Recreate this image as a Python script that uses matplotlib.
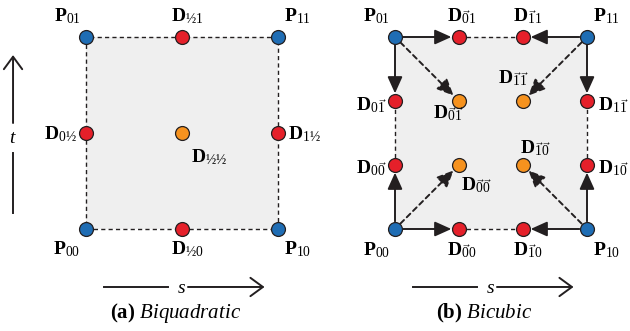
import matplotlib
matplotlib.use('Agg')
import matplotlib.pyplot as plt
from matplotlib.patches import FancyArrowPatch, Rectangle

plt.rcParams['font.family'] = ['Liberation Serif', 'DejaVu Serif']
plt.rcParams['mathtext.fontset'] = 'custom'
plt.rcParams['mathtext.rm'] = 'Liberation Serif'
plt.rcParams['mathtext.it'] = 'Liberation Serif:italic'
plt.rcParams['mathtext.bf'] = 'Liberation Serif:bold'

H = '\u00bd'

# (a) biquadratic patch: control points in (s, t)
quad_s = [0, 1, 0, 1, 0.5, 0.5, 0, 1, 0.5]
quad_t = [0, 0, 1, 1, 0, 1, 0.5, 0.5, 0.5]
quad_kind = ['corner'] * 4 + ['edge'] * 4 + ['face']
quad_names = [r'\mathbf{P}_{00}', r'\mathbf{P}_{10}', r'\mathbf{P}_{01}', r'\mathbf{P}_{11}',
              r'\mathbf{D}_{\mathrm{' + H + '0}}', r'\mathbf{D}_{\mathrm{' + H + '1}}',
              r'\mathbf{D}_{\mathrm{0' + H + '}}', r'\mathbf{D}_{\mathrm{1' + H + '}}',
              r'\mathbf{D}_{\mathrm{' + H + H + '}}']
quad_dashed = [(0, 1), (1, 3), (3, 2), (2, 0)]

# (b) bicubic patch
third = 1 / 3
cub_s = [0, 1, 0, 1, third, 2 * third, third, 2 * third, 0, 0, 1, 1,
         third, 2 * third, third, 2 * third]
cub_t = [0, 0, 1, 1, 0, 0, 1, 1, third, 2 * third, third, 2 * third,
         third, third, 2 * third, 2 * third]
cub_kind = ['corner'] * 4 + ['edge'] * 8 + ['face'] * 4
cub_names = [r'\mathbf{P}_{00}', r'\mathbf{P}_{10}', r'\mathbf{P}_{01}', r'\mathbf{P}_{11}',
             r'\mathbf{D}_{\vec{0}0}', r'\mathbf{D}_{\vec{1}0}',
             r'\mathbf{D}_{\vec{0}1}', r'\mathbf{D}_{\vec{1}1}',
             r'\mathbf{D}_{0\vec{0}}', r'\mathbf{D}_{0\vec{1}}',
             r'\mathbf{D}_{1\vec{0}}', r'\mathbf{D}_{1\vec{1}}',
             r'\mathbf{D}_{\vec{0}\vec{0}}', r'\mathbf{D}_{\vec{1}\vec{0}}',
             r'\mathbf{D}_{\vec{0}\vec{1}}', r'\mathbf{D}_{\vec{1}\vec{1}}']
cub_dashed = [(4, 5), (6, 7), (8, 9), (10, 11)]
cub_solid_arrows = [(0, 4), (0, 8), (1, 5), (1, 10), (2, 6), (2, 9), (3, 7), (3, 11)]
cub_dash_arrows = [(0, 12), (1, 13), (2, 14), (3, 15)]

colors = {'corner': '#1f6db4', 'edge': '#e5202a', 'face': '#f6921e'}

# label offsets in pixels (dx, dy) and alignment
quad_offsets = [(-19, -25, 'center'), (19.5, -25, 'center'), (-19, 16, 'center'), (19.5, 16, 'center'),
                (5, -25, 'center'), (5, 16, 'center'), (-9, -6, 'right'), (10, -6, 'left'),
                (9, -29, 'left')]
cub_offsets = [(-18, -26, 'center'), (20, -26, 'center'), (-18.5, 16, 'center'), (19, 16, 'center'),
               (3, -26, 'center'), (5, -26, 'center'), (3, 16, 'center'), (5, 16, 'center'),
               (-8, -8, 'right'), (-8, -9, 'right'), (11, -8, 'left'), (11, -9, 'left'),
               (17, -25, 'center'), (12, 12, 'center'), (-10.5, -17, 'center'), (-10, 18, 'center')]


def draw_panel(ax, s, t, kind, names, offsets, dashed, caption):
    ax.set_xlim(0, 1)
    ax.set_ylim(0, 1)
    ax.axis('off')
    ax.add_patch(Rectangle((0, 0), 1, 1, facecolor='#efefef', edgecolor='none', zorder=0))
    for i, j in dashed:
        ax.plot([s[i], s[j]], [t[i], t[j]], color='#231f20', lw=1.0,
                linestyle=(0, (3, 2.3)), zorder=1, clip_on=False)
    for k in range(len(s)):
        ax.plot(s[k], t[k], 'o', ms=10, mfc=colors[kind[k]], mec='#231f20', mew=0.9,
                zorder=5, clip_on=False)
        dx, dy, ha = offsets[k]
        ax.annotate('$' + names[k] + '$', (s[k], t[k]), xytext=(dx, dy),
                    textcoords='offset pixels', ha=ha, va='baseline', fontsize=14,
                    annotation_clip=False, zorder=6)
    # parameter arrows
    ax.plot([0.094, 0.427], [-0.302, -0.302], color='#231f20', lw=1.4, clip_on=False)
    ax.add_patch(FancyArrowPatch((0.531, -0.302), (0.93, -0.302),
                                 arrowstyle='->,head_length=0.45,head_width=0.33',
                                 mutation_scale=20, lw=1.4, color='#231f20',
                                 shrinkA=0, shrinkB=0, clip_on=False))
    ax.text(0.495, -0.333, '$\\mathit{s}$', ha='center', va='baseline', fontsize=14)
    ax.text(0.465, -0.4635, caption, ha='center', va='baseline', fontsize=15)


def arrow(ax, p, q, dashed):
    ls = (0, (2.6, 2.0)) if dashed else '-'
    ax.add_patch(FancyArrowPatch(p, q, arrowstyle='-|>,head_length=1.0,head_width=0.45',
                                 mutation_scale=10, lw=1.4, color='#231f20', linestyle=ls,
                                 shrinkA=5.5, shrinkB=5.5, zorder=3, clip_on=False))


fig = plt.figure(figsize=(6.3, 3.31), dpi=100)
ax_a = fig.add_axes([86 / 630, (331 - 229) / 331, 192 / 630, 192 / 331])
ax_b = fig.add_axes([395 / 630, (331 - 229) / 331, 192 / 630, 192 / 331])

draw_panel(ax_a, quad_s, quad_t, quad_kind, quad_names, quad_offsets, quad_dashed,
           r'$\mathbf{(a)}$ $\mathit{Biquadratic}$')
draw_panel(ax_b, cub_s, cub_t, cub_kind, cub_names, cub_offsets, cub_dashed,
           r'$\mathbf{(b)}$ $\mathit{Bicubic}$')

for i, j in cub_solid_arrows:
    arrow(ax_b, (cub_s[i], cub_t[i]), (cub_s[j], cub_t[j]), False)
for i, j in cub_dash_arrows:
    arrow(ax_b, (cub_s[i], cub_t[i]), (cub_s[j], cub_t[j]), True)

# t arrow on the left of panel (a)
ax_a.plot([-0.38, -0.38], [0.083, 0.396], color='#231f20', lw=1.4, clip_on=False)
ax_a.add_patch(FancyArrowPatch((-0.38, 0.552), (-0.38, 0.906),
                               arrowstyle='->,head_length=0.45,head_width=0.33',
                               mutation_scale=20, lw=1.4, color='#231f20',
                               shrinkA=0, shrinkB=0, clip_on=False))
ax_a.text(-0.38, 0.448, '$\\mathit{t}$', ha='center', va='baseline', fontsize=14)

fig.savefig('out.png', dpi=100)
